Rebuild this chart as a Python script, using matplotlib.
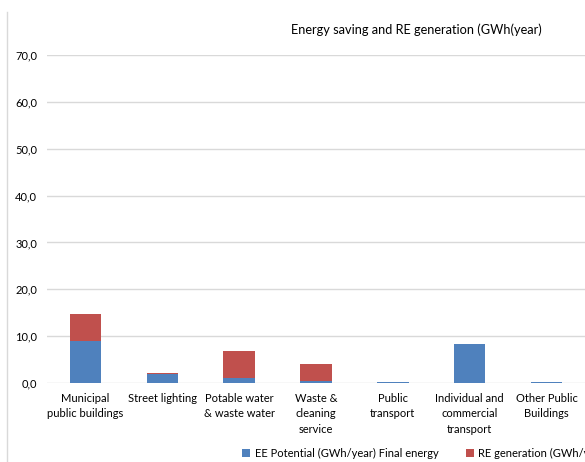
import numpy as np
import matplotlib.pyplot as plt
from matplotlib.lines import Line2D

plt.rcParams['font.family'] = ['Lato', 'DejaVu Sans']

# Categories and values (GWh/year)
categories = ["Municipal\npublic buildings", "Street lighting", "Potable water\n& waste water",
              "Waste &\ncleaning\nservice", "Public\ntransport",
              "Individual and\ncommercial\ntransport", "Other Public\nBuildings"]
ee_potential = [9.0, 2.0, 1.1, 0.4, 0.3, 8.4, 0.3]
re_generation = [5.8, 0.2, 5.8, 3.7, 0.0, 0.0, 0.0]
y_ticks = [0, 10, 20, 30, 40, 50, 60, 70]

blue = '#4F81BD'
red = '#C0504D'
grid_col = '#D9D9D9'

fig = plt.figure(figsize=(5.85, 4.62), dpi=100)
ax = fig.add_axes([47 / 585, 79 / 462, 538 / 585, 328 / 462])

x = np.arange(len(categories))
ax.bar(x, ee_potential, width=0.41, color=blue, zorder=3,
       label='EE Potential (GWh/year) Final energy')
ax.bar(x, re_generation, width=0.41, bottom=ee_potential, color=red, zorder=3,
       label='RE generation (GWh/year)')

ax.set_xlim(-0.5, len(categories) - 0.5)
ax.set_ylim(0, 70)
ax.set_yticks(y_ticks)
ax.set_yticklabels([f"{v:.1f}".replace('.', ',') for v in y_ticks], fontsize=8)
ax.set_xticks(x)
ax.set_xticklabels(categories, fontsize=8, linespacing=1.5, va='top')
ax.tick_params(axis='both', length=0, colors='#000000')
ax.tick_params(axis='y', pad=7)
ax.tick_params(axis='x', pad=7)
ax.grid(axis='y', color=grid_col, linewidth=1, zorder=0)
for s in ax.spines.values():
    s.set_visible(False)

fig.text(416 / 585, 1 - 30 / 462, 'Energy saving and RE generation (GWh(year)',
         ha='center', va='center', fontsize=9.2)

# chart area border on the left
fig.add_artist(Line2D([7 / 585, 7 / 585], [0, 1 - 12 / 462], color=grid_col,
                      linewidth=1, transform=fig.transFigure))

fig.legend(loc='center left', bbox_to_anchor=(238 / 585, 1 - 453 / 462), ncol=2,
           frameon=False, fontsize=8, handlelength=0.7, handleheight=0.7,
           handletextpad=0.4, columnspacing=2.5, borderaxespad=0)

fig.savefig('out.png', dpi=100)
